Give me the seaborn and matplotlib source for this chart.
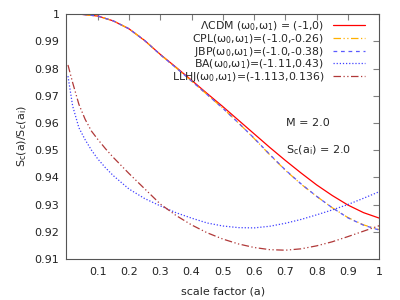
import numpy as np
import pandas as pd
import matplotlib
matplotlib.use("Agg")
import matplotlib.pyplot as plt
import seaborn as sns

# ---- data ----
a_upper = [0.005, 0.05, 0.1, 0.15, 0.2, 0.25, 0.3, 0.35, 0.4, 0.45, 0.5,
           0.55, 0.6, 0.65, 0.7, 0.75, 0.8, 0.85, 0.9, 0.95, 1.0]
lcdm = [1.0, 0.9999, 0.9993, 0.9975, 0.9946, 0.9903, 0.9852, 0.9805, 0.9757,
        0.9708, 0.9660, 0.9610, 0.9560, 0.9510, 0.9462, 0.9416, 0.9372,
        0.9333, 0.9298, 0.9270, 0.9250]
cpl = [1.0, 0.9999, 0.9993, 0.9975, 0.9946, 0.9903, 0.9851, 0.9803, 0.9754,
       0.9704, 0.9654, 0.9600, 0.9543, 0.9483, 0.9426, 0.9375, 0.9330,
       0.9288, 0.9252, 0.9225, 0.9208]
jbp = [1.0, 0.9999, 0.9993, 0.9975, 0.9946, 0.9903, 0.9851, 0.9803, 0.9754,
       0.9704, 0.9654, 0.9600, 0.9544, 0.9484, 0.9427, 0.9376, 0.9330,
       0.9288, 0.9251, 0.9224, 0.9206]

a_lower = [0.005, 0.02, 0.04, 0.06, 0.08, 0.1, 0.125, 0.15, 0.2, 0.25, 0.3,
           0.35, 0.4, 0.45, 0.5, 0.55, 0.6, 0.65, 0.7, 0.75, 0.8, 0.85, 0.9,
           0.95, 1.0]
ba = [0.9772, 0.9662, 0.9582, 0.9538, 0.9500, 0.9468, 0.9435, 0.9406, 0.9357,
      0.9322, 0.9295, 0.9270, 0.9250, 0.9232, 0.9221, 0.9215, 0.9214, 0.9220,
      0.9231, 0.9245, 0.9262, 0.9280, 0.9300, 0.9323, 0.9347]
llhj = [0.9813, 0.9748, 0.9668, 0.9613, 0.9570, 0.9540, 0.9505, 0.9473,
        0.9414, 0.9358, 0.9302, 0.9260, 0.9225, 0.9196, 0.9173, 0.9155,
        0.9142, 0.9134, 0.9132, 0.9137, 0.9148, 0.9163, 0.9182, 0.9202,
        0.9222]

labels = [r"$\Lambda$CDM ($\omega_0$,$\omega_1$) = (-1,0)",
          r"CPL($\omega_0$,$\omega_1$)=(-1.0,-0.26)",
          r"JBP($\omega_0$,$\omega_1$)=(-1.0,-0.38)",
          r"BA($\omega_0$,$\omega_1$)=(-1.11,0.43)",
          r"LLHJ($\omega_0$,$\omega_1$)=(-1.113,0.136)"]
x_ticks = [0.1, 0.2, 0.3, 0.4, 0.5, 0.6, 0.7, 0.8, 0.9, 1.0]
x_ticklabels = ["0.1", "0.2", "0.3", "0.4", "0.5", "0.6", "0.7", "0.8", "0.9", "1"]
y_ticks = [0.91, 0.92, 0.93, 0.94, 0.95, 0.96, 0.97, 0.98, 0.99, 1.0]
y_ticklabels = ["0.91", "0.92", "0.93", "0.94", "0.95", "0.96", "0.97", "0.98", "0.99", "1"]

sns.set_style("white")
plt.rcParams["font.family"] = ["DejaVu Sans"]
plt.rcParams["mathtext.fontset"] = "dejavusans"
plt.rcParams["mathtext.default"] = "regular"

fig = plt.figure(figsize=(4, 3), dpi=100)
ax = fig.add_axes([0.166, 0.137, 0.782, 0.816])

series = [
    (a_upper, lcdm, labels[0], "#ff0000", None),
    (a_upper, cpl, labels[1], "#ffb000", (6, 2, 1, 2, 1, 2)),
    (a_upper, jbp, labels[2], "#5a5aff", (3, 3)),
    (a_lower, ba, labels[3], "#4040ff", (1, 1.5)),
    (a_lower, llhj, labels[4], "#b03838", (6, 2, 1, 2, 1, 2)),
]
for xs, ys, lab, col, dash in series:
    df = pd.DataFrame({"a": xs, "v": ys})
    sns.lineplot(data=df, x="a", y="v", ax=ax, color=col, lw=0.9, label=lab)
    l = ax.get_lines()[-1]
    if dash is not None:
        l.set_dashes(dash)

ax.set_xlim(0, 1)
ax.set_ylim(0.91, 1.0)
ax.set_xticks(x_ticks)
ax.set_xticklabels(x_ticklabels)
ax.set_yticks(y_ticks)
ax.set_yticklabels(y_ticklabels)
ax.tick_params(direction="in", length=4, width=0.8, color="#808080",
               labelsize=8, top=True, right=True, labelcolor="#222222")
ax.tick_params(axis="x", pad=6)
ax.tick_params(axis="y", pad=5)
for s in ax.spines.values():
    s.set_color("#555555")
    s.set_linewidth(0.8)

ax.set_xlabel("scale factor (a)", fontsize=8, labelpad=7)
ax.set_ylabel(r"S$_c$(a)/S$_c$(a$_i$)", fontsize=8, labelpad=4)

leg = ax.legend(loc="upper right", bbox_to_anchor=(0.955, 0.978),
                frameon=False, markerfirst=False,
                fontsize=7.8, handlelength=3.0, handletextpad=0.8,
                labelspacing=-0.1, borderaxespad=0.0, borderpad=0.0)
for t in leg.get_texts():
    t.set_ha("right")
leg._legend_box.align = "right"

ax.text(0.703, 0.960, "M = 2.0", fontsize=8, va="center")
ax.text(0.703, 0.950, r"S$_c$(a$_i$) = 2.0", fontsize=8, va="center")

fig.savefig("out.png", dpi=100)
